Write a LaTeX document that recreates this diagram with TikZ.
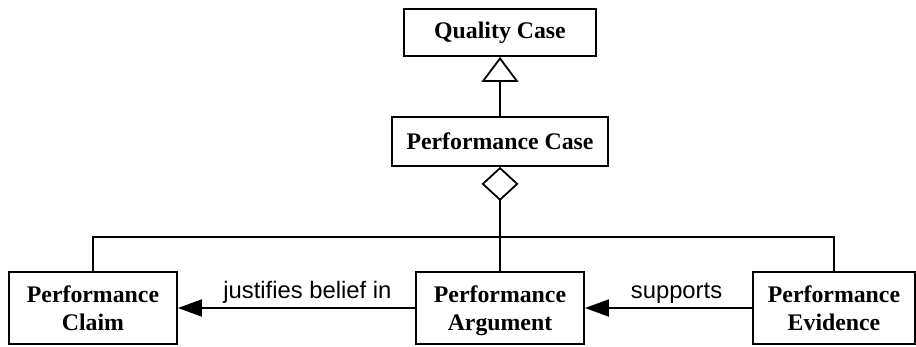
\documentclass[tikz,border=0pt]{standalone}
\usepackage{fontspec}
\setmainfont{Liberation Serif}
\newfontfamily\labelfont{Liberation Sans}
\usetikzlibrary{arrows.meta}

% struts that fix the height of the first and the depth of the last text line
\newcommand\firstline{\rule{0pt}{25pt}}

\tikzset{
  classbox/.style={draw, line width=1.8pt, rectangle, inner sep=0pt,
    align=center, font=\fontsize{23.8}{28}\selectfont\bfseries},
  link/.style={line width=1.8pt},
  edgelabel/.style={font=\labelfont\fontsize{23.8}{28}\selectfont, anchor=base, inner sep=0pt},
  generalizes/.style={link, -{Triangle[open, length=25pt, width=37pt, line width=1.8pt]}},
  aggregates/.style={link, -{Diamond[open, length=34pt, width=37pt, line width=1.8pt]}},
  relates/.style={link, -{Triangle[length=24pt, width=17pt]}},
}

\begin{document}
\begin{tikzpicture}[x=1pt, y=-1pt]
  \useasboundingbox (0,0) rectangle (916,346);

  % class boxes
  \node[classbox, minimum width=192pt, minimum height=47pt] (qc) at (500,32.5) {Quality Case};
  \node[classbox, minimum width=216pt, minimum height=49pt] (pc) at (500,141.5) {Performance Case};
  \node[classbox, minimum width=168pt, minimum height=72pt] (claim) at (93,308) {\firstline Performance\\Claim\strut};
  \node[classbox, minimum width=168pt, minimum height=72pt] (arg) at (500,308) {\firstline Performance\\Argument\strut};
  \node[classbox, minimum width=162pt, minimum height=72pt] (evid) at (834,308) {\firstline Performance\\Evidence\strut};

  % bus joining the three parts
  \coordinate (bus) at (500,237);

  % generalization and aggregation
  \draw[generalizes] (pc.north) -- (qc.south);
  \draw[aggregates] (arg.north) -- (pc.south);
  \draw[link] (claim.north) -- (claim.north |- bus) -| (evid.north);

  % relations between the parts
  \draw[relates] (arg.west) -- node[edgelabel, pos=0.454, yshift=10pt] {justifies belief in} (claim.east);
  \draw[relates] (evid.west) -- node[edgelabel, pos=0.452, yshift=10pt] {supports} (arg.east);
\end{tikzpicture}
\end{document}
